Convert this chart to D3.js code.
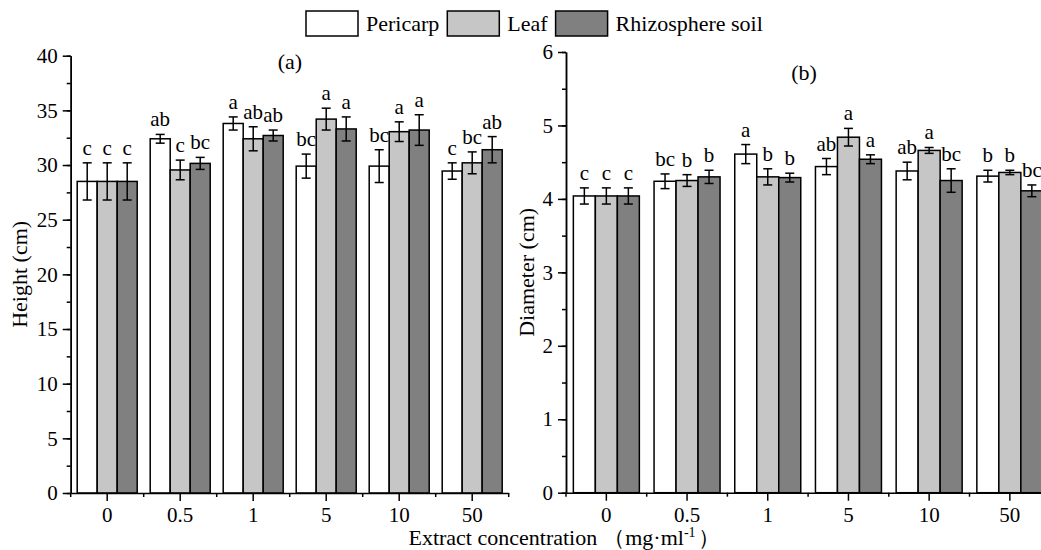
<!DOCTYPE html>
<html>
<head>
<meta charset="utf-8">
<script src="https://cdn.jsdelivr.net/npm/d3@7"></script>
<style>
  body { margin: 0; background: #fff; }
  svg { display: block; font-family: "Liberation Serif", "Times New Roman", serif; }
  .axis path, .axis line { stroke: #000; stroke-width: 1.5; }
  .axis text { font-family: "Liberation Serif", serif; font-size: 21px; fill: #000; }
</style>
</head>
<body>
<svg id="chart" width="1041" height="550"></svg>
<script>
const concentrations = ["0", "0.5", "1", "5", "10", "50"]
const seriesNames = ["Pericarp", "Leaf", "Rhizosphere soil"]
const seriesColors = ["#ffffff", "#c6c6c6", "#808080"]

// (a) height, cm
const heightPericarp = [28.5, 32.4, 33.8, 29.9, 29.9, 29.45]
const heightLeaf     = [28.5, 29.55, 32.4, 34.2, 33.05, 30.2]
const heightSoil     = [28.5, 30.15, 32.7, 33.3, 33.2, 31.4]
const heightPericarpErr = [1.7, 0.4, 0.6, 1.1, 1.5, 0.75]
const heightLeafErr     = [1.7, 0.9, 1.1, 1.0, 0.9, 1.0]
const heightSoilErr     = [1.7, 0.55, 0.5, 1.1, 1.4, 1.2]
const heightPericarpSig = ["c", "ab", "a", "bc", "bc", "c"]
const heightLeafSig     = ["c", "c", "ab", "a", "a", "bc"]
const heightSoilSig     = ["c", "bc", "ab", "a", "a", "ab"]
const heightTicks = [0, 5, 10, 15, 20, 25, 30, 35, 40]

// (b) diameter, cm
const diamPericarp = [4.04, 4.24, 4.61, 4.44, 4.38, 4.31]
const diamLeaf     = [4.04, 4.25, 4.30, 4.84, 4.66, 4.36]
const diamSoil     = [4.04, 4.30, 4.29, 4.54, 4.25, 4.11]
const diamPericarpErr = [0.11, 0.10, 0.13, 0.11, 0.12, 0.08]
const diamLeafErr     = [0.11, 0.08, 0.11, 0.12, 0.04, 0.03]
const diamSoilErr     = [0.11, 0.09, 0.06, 0.06, 0.16, 0.08]
const diamPericarpSig = ["c", "bc", "a", "ab", "ab", "b"]
const diamLeafSig     = ["c", "b", "b", "a", "a", "b"]
const diamSoilSig     = ["c", "b", "b", "a", "bc", "bc"]
const diamTicks = [0, 1, 2, 3, 4, 5, 6]

const svg = d3.select("#chart")

const panels = [
    {
        title: "(a)", ylabel: "Height (cm)",
        means: [heightPericarp, heightLeaf, heightSoil],
        errs: [heightPericarpErr, heightLeafErr, heightSoilErr],
        sigs: [heightPericarpSig, heightLeafSig, heightSoilSig],
        ticks: heightTicks, minorStep: 2.5,
        x0: 70.7, bandW: 73, barW: 20, y0: 493, y1: 55.7,
        titleX: 290, titleY: 69, labelX: 27
    },
    {
        title: "(b)", ylabel: "Diameter (cm)",
        means: [diamPericarp, diamLeaf, diamSoil],
        errs: [diamPericarpErr, diamLeafErr, diamSoilErr],
        sigs: [diamPericarpSig, diamLeafSig, diamSoilSig],
        ticks: diamTicks, minorStep: 0.5,
        x0: 566, bandW: 80.7, barW: 22, y0: 492.7, y1: 52,
        titleX: 804, titleY: 80, labelX: 534
    }
]

function drawPanel(p) {
    const g = svg.append("g")

    const x = d3.scaleBand()
        .domain(concentrations)
        .range([p.x0, p.x0 + p.bandW * concentrations.length])

    const groupW = p.barW * seriesNames.length
    const xs = d3.scaleBand()
        .domain(d3.range(seriesNames.length))
        .range([(p.bandW - groupW) / 2, (p.bandW + groupW) / 2])

    const yMax = p.ticks[p.ticks.length - 1]
    const y = d3.scaleLinear().domain([0, yMax]).range([p.y0, p.y1])

    // bars
    seriesNames.forEach((name, s) => {
        const rows = concentrations.map((c, i) => ({
            c, mean: p.means[s][i], err: p.errs[s][i], sig: p.sigs[s][i]
        }))
        const bx = d => x(d.c) + xs(s)
        const cx = d => bx(d) + xs.bandwidth() / 2

        g.selectAll(".bar" + s)
            .data(rows)
            .enter().append("rect")
            .attr("x", bx)
            .attr("y", d => y(d.mean))
            .attr("width", xs.bandwidth())
            .attr("height", d => y(0) - y(d.mean))
            .style("fill", seriesColors[s])
            .style("stroke", "#000")
            .style("stroke-width", 1.5)

        const eb = g.selectAll(".err" + s)
            .data(rows)
            .enter().append("g")
            .style("stroke", "#000")
            .style("stroke-width", 1.5)
        eb.append("line")
            .attr("x1", cx).attr("x2", cx)
            .attr("y1", d => y(d.mean - d.err))
            .attr("y2", d => y(d.mean + d.err))
        eb.append("line")
            .attr("x1", d => cx(d) - 4.5).attr("x2", d => cx(d) + 4.5)
            .attr("y1", d => y(d.mean + d.err)).attr("y2", d => y(d.mean + d.err))
        eb.append("line")
            .attr("x1", d => cx(d) - 4.5).attr("x2", d => cx(d) + 4.5)
            .attr("y1", d => y(d.mean - d.err)).attr("y2", d => y(d.mean - d.err))

        g.selectAll(".sig" + s)
            .data(rows)
            .enter().append("text")
            .attr("x", cx)
            .attr("y", d => y(d.mean + d.err) - 8)
            .attr("text-anchor", "middle")
            .style("font-size", "21px")
            .text(d => d.sig)
    })

    // y axis, major + minor
    const minor = d3.range(0, yMax + 0.001, p.minorStep)
    g.append("g")
        .attr("class", "axis")
        .attr("transform", `translate(${p.x0},0)`)
        .call(d3.axisLeft(y).tickValues(minor).tickSize(4).tickSizeOuter(0).tickFormat(""))
    g.append("g")
        .attr("class", "axis")
        .attr("transform", `translate(${p.x0},0)`)
        .call(d3.axisLeft(y).tickValues(p.ticks).tickSize(8).tickSizeOuter(0).tickPadding(5).tickFormat(d3.format("d")))

    // x axis, major at group centres, minor at group edges
    const edges = d3.range(concentrations.length + 1).map(i => p.x0 + i * p.bandW)
    g.append("g")
        .attr("class", "axis")
        .attr("transform", `translate(0,${p.y0})`)
        .call(d3.axisBottom(x).tickSize(8).tickSizeOuter(0).tickPadding(6))
    g.append("g")
        .selectAll("line")
        .data(edges)
        .enter().append("line")
        .attr("x1", d => d).attr("x2", d => d)
        .attr("y1", p.y0).attr("y2", p.y0 + 4)
        .style("stroke", "#000").style("stroke-width", 1.5)

    g.append("text")
        .attr("x", p.titleX).attr("y", p.titleY)
        .attr("text-anchor", "middle")
        .style("font-size", "22px")
        .text(p.title)

    g.append("text")
        .attr("transform", `translate(${p.labelX},${(p.y0 + p.y1) / 2}) rotate(-90)`)
        .attr("text-anchor", "middle")
        .style("font-size", "22px")
        .text(p.ylabel)
}

panels.forEach(drawPanel)

// shared x title
const xt = svg.append("text")
    .attr("x", 564).attr("y", 545)
    .attr("text-anchor", "middle")
    .style("font-size", "22px")
xt.append("tspan").text("Extract concentration")
xt.append("tspan").attr("dx", 6).text("（mg·ml")
xt.append("tspan").attr("dy", -8).style("font-size", "14px").text("-1")
xt.append("tspan").attr("dy", 8).attr("dx", 2).text("）")

// legend
const legend = svg.append("g")
let lx = 306
seriesNames.forEach((name, s) => {
    legend.append("rect")
        .attr("x", lx).attr("y", 11)
        .attr("width", 52).attr("height", 25)
        .style("fill", seriesColors[s])
        .style("stroke", "#000")
        .style("stroke-width", 1.5)
    const t = legend.append("text")
        .attr("x", lx + 60).attr("y", 31)
        .style("font-size", "22px")
        .text(name)
    lx += 60 + t.node().getComputedTextLength() + 8
})
</script>
</body>
</html>
